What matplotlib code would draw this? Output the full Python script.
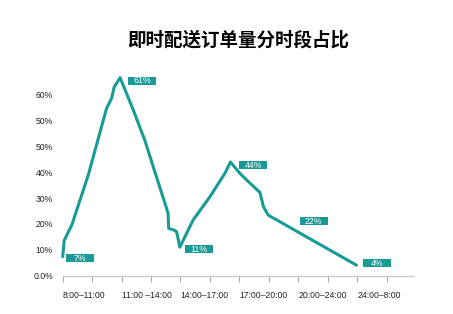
import numpy as np
import matplotlib

matplotlib.use("Agg")
import matplotlib.pyplot as plt
from matplotlib.offsetbox import AnnotationBbox, DrawingArea
from matplotlib.patches import Rectangle
from matplotlib.text import Text

# Share of instant-delivery orders per time slot
slots = ["8:00\u201311:00", "11:00 \u201314:00", "14:00\u201317:00",
         "17:00\u201320:00", "20:00\u201324:00", "24:00\u20138:00"]
shares = [7, 61, 11, 44, 22, 4]
# where each labelled share sits along the curve (tick units)
share_x = [0.0, 1.95, 3.98, 5.70, 7.20, 9.98]

# hand-traced outline of the curve between the labelled points
curve_x = [0.0, 0.05, 0.14, 0.31, 0.87, 1.49, 1.66, 1.75, 1.95, 2.40,
           2.79, 3.13, 3.53, 3.58, 3.60, 3.78, 3.87, 3.98, 4.43, 5.00,
           5.51, 5.70, 6.02, 6.25, 6.70, 6.82, 6.98, 7.20, 9.98]
curve_y = [7.3, 13.5, 15.7, 19.6, 39.0, 56.1, 57.7, 59.5, 61.0, 55.8,
           51.0, 40.2, 26.0, 24.1, 18.3, 17.6, 17.0, 11.0, 21.5, 30.5,
           39.6, 44.0, 39.6, 37.0, 32.2, 26.7, 23.4, 22.0, 4.0]

ytick_labels = ["0.0%", "10%", "20%", "30%", "40%", "50%", "50%", "60%"]

TEAL = "#189b96"

# the upper part of the axis is stretched so the 61% peak stands tall
_val = [0, 50, 61, 100]
_pos = [0, 50, 76.7, 150]


def forward(v):
    return np.interp(v, _val, _pos)


def inverse(p):
    return np.interp(p, _pos, _val)


def value_tag(ax, x, y, text, dx, dy):
    """Small teal tag with the value, its left edge dx/dy pixels off the point"""
    w, h = 28 * 0.72, 8 * 0.72  # pixels -> points
    da = DrawingArea(w, h, 0, 0, clip=False)
    da.add_artist(Rectangle((0, 0), w, h, fc=TEAL, ec="none"))
    da.add_artist(Text(w / 2, h / 2 - 0.2, text, ha="center", va="center",
                       color="white", fontsize=6.3, family="Liberation Sans"))
    ab = AnnotationBbox(da, (x, y), xybox=(dx, dy), boxcoords="offset pixels",
                        box_alignment=(0, 0.5), frameon=False, pad=0,
                        annotation_clip=False, zorder=4)
    ax.add_artist(ab)


fig = plt.figure(figsize=(4.53, 3.14), dpi=100)
ax = fig.add_axes([62.7 / 453, 38.5 / 314, 350.3 / 453, 201.2 / 314])
ax.set_yscale("function", functions=(forward, inverse))

ax.plot(curve_x, curve_y, color=TEAL, lw=2.2, solid_joinstyle="round",
        solid_capstyle="round", clip_on=False, zorder=3)

# (dx, dy) in pixels from each point to its tag
tag_offsets = [(3, -1), (8, -3), (5, -2), (9, -3), (25, -2), (7, 2)]
for x, v, (dx, dy) in zip(share_x, shares, tag_offsets):
    value_tag(ax, x, v, f"{v}%", dx, dy)

ax.set_xlim(0, 11.9)
ax.set_ylim(0, inverse(78))

ax.set_yticks(inverse(np.arange(0, 80, 10)))
ax.set_yticklabels(ytick_labels)
ax.tick_params(axis="y", length=0, pad=7, labelsize=6.2, labelcolor="#222222")
for lab in ax.get_yticklabels():
    lab.set_family("Liberation Sans")

xlabels = []
for i in range(12):
    xlabels.append(slots[i // 2] if i % 2 == 0 else "")
ax.set_xticks(range(12))
ax.set_xticklabels(xlabels, ha="left")
ax.tick_params(axis="x", length=4, width=0.8, color="#aaaaaa", pad=7,
               labelsize=6.2, labelcolor="#222222")
for lab in ax.get_xticklabels():
    lab.set_family("Liberation Sans")

for side in ("left", "right", "top"):
    ax.spines[side].set_visible(False)
ax.spines["bottom"].set_color("#cccccc")
ax.spines["bottom"].set_linewidth(1.0)

fig.text(238 / 453, 1 - 40 / 314, "即时配送订单量分时段占比", ha="center",
         va="center", fontsize=13.3, fontweight="bold",
         family=["Noto Sans CJK SC", "DejaVu Sans"])

fig.savefig("out.png", dpi=100)
